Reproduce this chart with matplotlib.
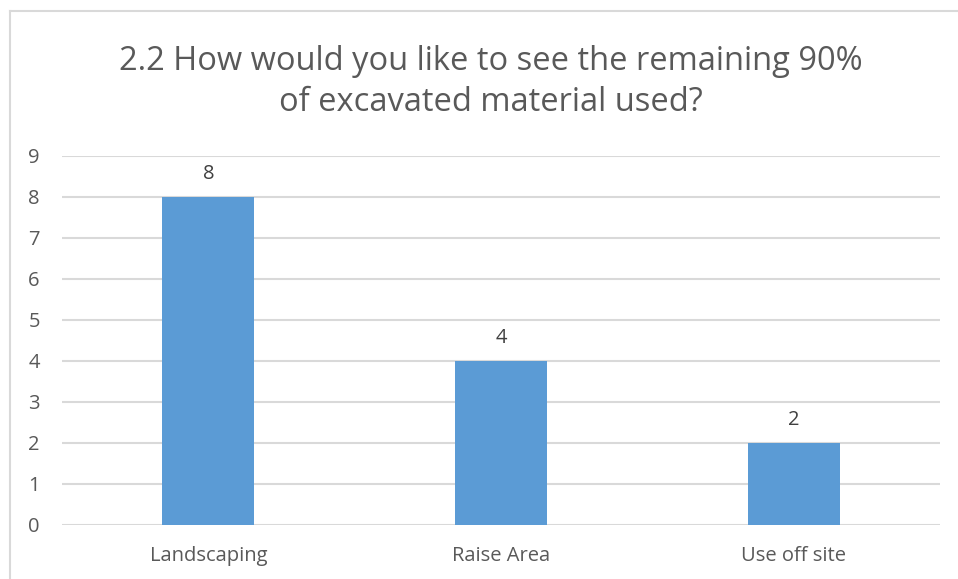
import matplotlib.pyplot as plt
from matplotlib.lines import Line2D

# survey answers for question 2.2
categories = ["Landscaping", "Raise Area", "Use off site"]
counts = [8, 4, 2]
yticks = list(range(0, 10))

plt.rcParams['font.family'] = ['Open Sans', 'DejaVu Sans']

fig = plt.figure(figsize=(9.58, 5.79), dpi=100)
ax = fig.add_axes([0.0647, 0.0933, 0.9165, 0.6373])

bars = ax.bar(range(len(categories)), counts, width=0.314, color="#5B9BD5", zorder=3)
for b, v in zip(bars, counts):
    ax.annotate(str(v), (b.get_x() + b.get_width() / 2, v), xytext=(0, 9),
                textcoords="offset points", ha="center", va="bottom",
                fontsize=14.5, color="#404040")

ax.set_xlim(-0.5, len(categories) - 0.5)
ax.set_ylim(0, 9)
ax.set_yticks(yticks)
ax.set_xticks(range(len(categories)))
ax.set_xticklabels(categories)
ax.tick_params(axis="both", length=0, labelsize=14.5, labelcolor="#595959")
ax.tick_params(axis="y", pad=16)
ax.tick_params(axis="x", pad=15)
ax.grid(axis="y", color="#D9D9D9", linewidth=1.5, zorder=0)
for s in ax.spines.values():
    s.set_visible(False)

fig.text(0.5125, 0.858, "2.2 How would you like to see the remaining 90%\nof excavated material used?",
         ha="center", va="center", fontsize=23.5, color="#595959", linespacing=1.3)

# thin chart border along the top and left
fig.add_artist(Line2D([10 / 958, 10 / 958], [1 - 11 / 579, 0], transform=fig.transFigure,
                      color="#D9D9D9", linewidth=1.5))
fig.add_artist(Line2D([10 / 958, 1], [1 - 11 / 579, 1 - 11 / 579], transform=fig.transFigure,
                      color="#D9D9D9", linewidth=1.5))

fig.savefig("out.png", dpi=100)
